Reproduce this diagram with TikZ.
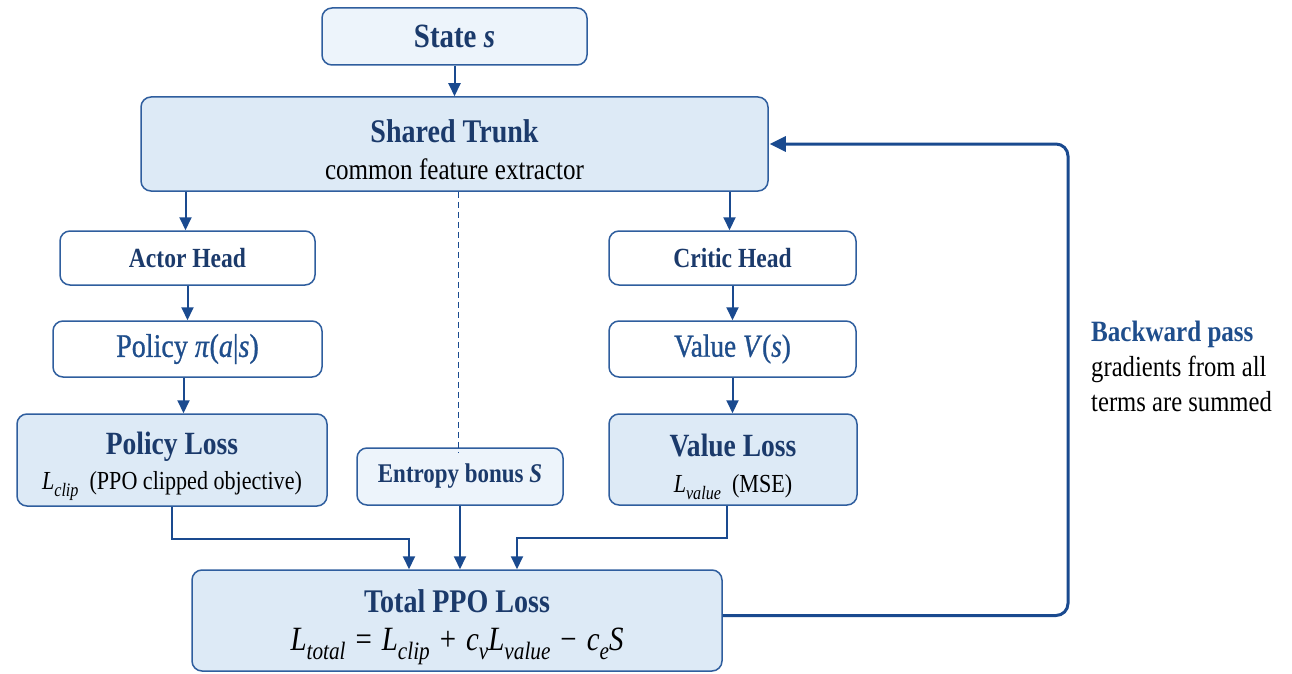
\documentclass[tikz,border=0pt]{standalone}
\usepackage{fontspec}
\setmainfont{Liberation Serif}[FakeStretch=0.85]
\newfontfamily\medfont{Liberation Serif}[FakeStretch=0.85,FakeBold=0.8]
\usetikzlibrary{arrows.meta,calc}
\definecolor{bord}{HTML}{2F5E9E}
\definecolor{arrc}{HTML}{1A4A8F}
\definecolor{lfill}{HTML}{DDEAF6}
\definecolor{sfill}{HTML}{EDF4FB}
\definecolor{ttl}{HTML}{1B3A6B}
\definecolor{mblue}{HTML}{1F4E8C}
\newcommand\isub[3]{\textit{#1}\raisebox{-0.25em}{\fontsize{#3}{#3}\selectfont\itshape #2}}
\newcommand\fs[1]{\fontsize{#1}{#1}\selectfont}
\newcommand\fsb[2]{\fontsize{#1}{#2}\selectfont}
\newcommand\strt[1]{\rule{0pt}{#1}}
\newcommand\gp{\hspace{10pt}}
\tikzset{
  box/.style={draw=bord, line width=1.5pt, rounded corners=10pt, inner sep=0pt, align=center},
  wbox/.style={box, fill=white},
  lbox/.style={box, fill=lfill},
  arr/.style={draw=arrc, line width=2pt, -{Triangle[length=13pt,width=12pt]}},
  fb/.style={draw=arrc, line width=3pt, rounded corners=12pt, -{Triangle[length=16pt,width=15pt]}},
}
\begin{document}
\begin{tikzpicture}[x=1pt,y=-1pt]
\useasboundingbox (0,0) rectangle (1292,674);
\node[box, fill=sfill, minimum width=265pt, minimum height=57pt, font=\fs{34}\bfseries, text=ttl] (state) at (454.5,36.5) {State \textit{s}};
\node[lbox, minimum width=627pt, minimum height=94pt, font=\fsb{29.5}{37}] (trunk) at (454.5,144)
  {\strt{35pt}{\fs{33}\bfseries\color{ttl}Shared Trunk}\\{\fs{29.5}common feature extractor}};
\node[wbox, minimum width=255pt, minimum height=54pt, font=\fs{27.7}\bfseries, text=ttl] (actor) at (187.5,258) {Actor Head};
\node[wbox, minimum width=269pt, minimum height=56pt, font=\fs{33}\medfont, text=mblue] (policy) at (187.5,349) {Policy \textit{π}(\textit{a}|\textit{s})};
\node[lbox, minimum width=310pt, minimum height=92pt, font=\fsb{26}{35}] (ploss) at (172,460)
  {\strt{35pt}{\fs{32.4}\bfseries\color{ttl}Policy Loss}\\{\fs{26}\isub{L}{clip}{19}\ \ (PPO clipped objective)}};
\node[box, fill=sfill, minimum width=206pt, minimum height=57pt, font=\fs{27}\bfseries, text=ttl] (entropy) at (460,476.5) {Entropy bonus \textit{S}};
\node[wbox, minimum width=247pt, minimum height=54pt, font=\fs{27.7}\bfseries, text=ttl] (critic) at (732.5,258) {Critic Head};
\node[wbox, minimum width=247pt, minimum height=56pt, font=\fs{32}\medfont, text=mblue] (value) at (732.5,349) {Value \textit{V}(\textit{s})};
\node[lbox, minimum width=248pt, minimum height=91pt, font=\fsb{26}{36}] (vloss) at (733,459.5)
  {\strt{37pt}{\fs{32.4}\bfseries\color{ttl}Value Loss}\\{\fs{26}\isub{L}{value}{19}\ \ (MSE)}};
\node[lbox, minimum width=530pt, minimum height=101pt, font=\fsb{34}{38}] (total) at (457,620.5)
  {\strt{36pt}{\fs{33}\bfseries\color{ttl}Total PPO Loss}\\{\fs{34}\isub{L}{total}{25}\gp=\gp\isub{L}{clip}{25}\gp+\gp\isub{c}{v}{25}\isub{L}{value}{25}\gp−\gp\isub{c}{e}{25}\textit{S}}};
\node[anchor=west, align=left, inner sep=0pt, font=\fsb{29}{35}] (note) at (1091,366)
  {{\fs{29.5}\bfseries\color{mblue}Backward pass}\\gradients from all\\terms are summed};
\coordinate (fbx) at (1068,0);
% connectors
\draw[arr] (state.south) -- (trunk.north);
\draw[arr] ([xshift=-2pt]actor.north |- trunk.south) -- ([xshift=-2pt]actor.north);
\draw[arr] ([xshift=-3pt]critic.north |- trunk.south) -- ([xshift=-3pt]critic.north);
\draw[draw=arrc, line width=1pt, dash pattern=on 6pt off 4pt] ([xshift=-2pt]entropy.north |- trunk.south) -- ([xshift=-2pt,yshift=-5pt]entropy.north);
\draw[arr] (actor.south) -- (policy.north);
\draw[arr] ([xshift=-4pt]policy.south) -- ([xshift=-4pt]policy.south |- ploss.north);
\draw[arr] (critic.south) -- (value.north);
\draw[arr] (value.south) -- (value.south |- vloss.north);
\draw[arr] (ploss.south) -- ++(0,32) -| ([xshift=-48pt]total.north);
\draw[arr] (entropy.south) -- (entropy.south |- total.north);
\draw[arr] ([xshift=-6pt]vloss.south) -- ++(0,32) -| ([xshift=60pt]total.north);
\draw[fb] ([yshift=5pt]total.east) -- ([yshift=5pt]total.east -| fbx) -- (trunk.east -| fbx) -- ([xshift=1pt]trunk.east);
\end{tikzpicture}
\end{document}
